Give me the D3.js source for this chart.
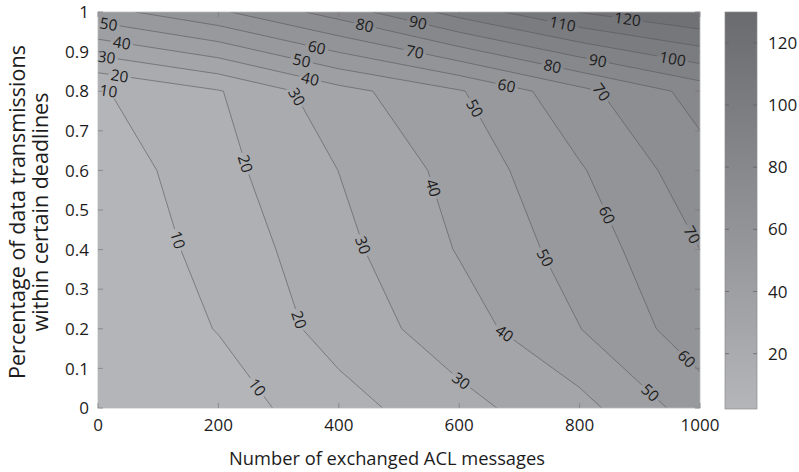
<!DOCTYPE html>
<html><head><meta charset="utf-8">
<script src="https://cdn.jsdelivr.net/npm/d3@7"></script>
<style>
body{margin:0;background:#fff}
svg text{font-family:"Open Sans","Noto Sans",sans-serif;fill:#1c1c1c}
</style>
</head><body>
<svg id="chart" width="799" height="472"></svg>
<script>
// ---- data ----
const xValues = [0, 200, 400, 600, 800, 1000];          // ACL messages (grid columns)
const yValues = [0, 0.2, 0.4, 0.6, 0.8, 1.0];           // percentage (grid rows)
const rowY00 = [2.2, 5.1, 16.0, 27.0, 36.6, 55.1];
const rowY02 = [2.2, 10.4, 24.2, 35.3, 49.8, 65.8];
const rowY04 = [2.3, 13.5, 27.1, 40.7, 54.4, 70.0];
const rowY06 = [3.5, 16.8, 30.1, 43.5, 59.0, 75.9];
const rowY08 = [9.0, 19.3, 36.4, 49.1, 67.0, 84.0];
const rowY10 = [56.2, 68.4, 84.5, 104.0, 120.3, 129.9];
const contourLevels = [10, 20, 30, 40, 50, 60, 70, 80, 90, 100, 110, 120];
const xTicks = [0, 200, 400, 600, 800, 1000];
const yTicks = [0, 0.1, 0.2, 0.3, 0.4, 0.5, 0.6, 0.7, 0.8, 0.9, 1];
const colorbarTicks = [20, 40, 60, 80, 100, 120];
// contour label spots: [level, messages, percentage]
const labelLevels = [50,40,30,20,10, 80,60,50,40,30, 90,70,60,50, 110,80,90,70, 120,100,
                     20,10,30,40,50,60,70, 20,10,40,30,50,60];
const labelXs = [17,39,14,36,17, 443,363,338,352,330, 532,527,679,621, 772,756,831,834, 879,954,
                 247,132,424,549,745,845,981, 324,266,671,598,914,975];
const labelYs = [0.963,0.917,0.883,0.841,0.797, 0.967,0.908,0.875,0.828,0.786, 0.977,0.904,0.816,0.753,
                 0.972,0.871,0.884,0.795, 0.975,0.879,
                 0.618,0.424,0.403,0.552,0.381,0.487,0.433, 0.218,0.054,0.18,0.058,0.033,0.12];

const grid = [rowY00, rowY02, rowY04, rowY06, rowY08, rowY10];

// ---- layout ----
const svg = d3.select("#chart");
const L = 98, R = 700, T = 12, B = 408;
const x = d3.scaleLinear().domain([0, 1000]).range([L, R]);
const y = d3.scaleLinear().domain([0, 1]).range([B, T]);
const nx = xValues.length, ny = yValues.length;
const gxToData = d3.scaleLinear().domain([0.5, nx - 0.5]).range([xValues[0], xValues[nx - 1]]);
const gyToData = d3.scaleLinear().domain([0.5, ny - 0.5]).range([yValues[0], yValues[ny - 1]]);
const flat = grid.flat();
const [vmin, vmax] = d3.extent(flat);
const color = d3.scaleLinear().domain([vmin, vmax]).range(["#b4b5b9", "#6a6b6f"]);

const defs = svg.append("defs");
defs.append("clipPath").attr("id", "plotclip")
  .append("rect").attr("x", L).attr("y", T).attr("width", R - L).attr("height", B - T);

const proj = d3.geoTransform({
  point: function(px, py) { this.stream.point(x(gxToData(px)), y(gyToData(py))); }
});
const path = d3.geoPath(proj);

const contourGen = d3.contours().size([nx, ny]);
const fillGeoms = contourGen.thresholds([vmin, ...contourLevels])(flat);
const lineGeoms = contourGen.thresholds(contourLevels)(flat);

const plot = svg.append("g").attr("clip-path", "url(#plotclip)");
plot.append("rect").attr("x", L).attr("y", T).attr("width", R - L).attr("height", B - T)
  .attr("fill", color(vmin));
plot.selectAll("path.fill").data(fillGeoms).join("path").attr("class", "fill")
  .attr("d", path).attr("fill", d => color(d.value)).attr("stroke", "none");

// ---- contour labels (positions snapped to the contour) ----
const mask = defs.append("mask").attr("id", "gapmask").attr("maskUnits", "userSpaceOnUse")
  .attr("x", 0).attr("y", 0).attr("width", 799).attr("height", 472);
mask.append("rect").attr("x", 0).attr("y", 0).attr("width", 799).attr("height", 472).attr("fill", "white");

const lineLayer = plot.append("g").attr("mask", "url(#gapmask)");
lineLayer.selectAll("path.iso").data(lineGeoms).join("path").attr("class", "iso")
  .attr("d", path).attr("fill", "none").attr("stroke", "#58585a").attr("stroke-width", 0.6);

const labelLayer = svg.append("g");
function ringsPx(geom) {
  const out = [];
  geom.coordinates.forEach(poly => poly.forEach(ring => {
    out.push(ring.map(p => [x(gxToData(p[0])), y(gyToData(p[1]))]));
  }));
  return out;
}
const inside = p => p[0] >= L - 0.5 && p[0] <= R + 0.5 && p[1] >= T - 0.5 && p[1] <= B + 0.5;
labelLevels.forEach((lev, i) => {
  const geom = lineGeoms.find(g => g.value === lev);
  if (!geom) return;
  const sx = x(labelXs[i]), sy = y(labelYs[i]);
  let best = null;
  ringsPx(geom).forEach(r => {
    for (let k = 0; k < r.length - 1; k++) {
      const a = r[k], b = r[k + 1];
      if (!inside(a) && !inside(b)) continue;
      const dx = b[0] - a[0], dy = b[1] - a[1];
      const len2 = dx * dx + dy * dy; if (len2 === 0) continue;
      let t = ((sx - a[0]) * dx + (sy - a[1]) * dy) / len2;
      t = Math.max(0, Math.min(1, t));
      const px = a[0] + t * dx, py = a[1] + t * dy;
      const d2 = (px - sx) ** 2 + (py - sy) ** 2;
      if (!best || d2 < best.d2) best = {d2, px, py, ang: Math.atan2(dy, dx) * 180 / Math.PI};
    }
  });
  if (!best) return;
  let ang = best.ang;
  if (ang > 90) ang -= 180;
  if (ang <= -90) ang += 180;
  const t = labelLayer.append("text")
    .attr("transform", `translate(${best.px},${best.py}) rotate(${ang})`)
    .attr("text-anchor", "middle").attr("dy", "0.36em")
    .attr("font-size", 15.5).text(lev);
  const w = t.node().getComputedTextLength() + 5;
  mask.append("rect").attr("x", -w / 2).attr("y", -7).attr("width", w).attr("height", 14)
    .attr("fill", "black").attr("transform", `translate(${best.px},${best.py}) rotate(${ang})`);
});

// ---- axes box and inner ticks ----
const axes = svg.append("g");
axes.append("rect").attr("x", L).attr("y", T).attr("width", R - L).attr("height", B - T)
  .attr("fill", "none").attr("stroke", "#b9b9bb").attr("stroke-width", 0.8);
const tickCol = "#7a7a7c", tl = 5;
xTicks.forEach(v => {
  axes.append("line").attr("x1", x(v)).attr("x2", x(v)).attr("y1", B).attr("y2", B - tl).attr("stroke", tickCol).attr("stroke-width", 0.7);
  axes.append("line").attr("x1", x(v)).attr("x2", x(v)).attr("y1", T).attr("y2", T + tl).attr("stroke", tickCol).attr("stroke-width", 0.7);
  axes.append("text").attr("x", x(v)).attr("y", B + 23).attr("text-anchor", "middle")
    .attr("font-size", 17).text(d3.format("d")(v));
});
yTicks.forEach(v => {
  axes.append("line").attr("x1", L).attr("x2", L + tl).attr("y1", y(v)).attr("y2", y(v)).attr("stroke", tickCol).attr("stroke-width", 0.7);
  axes.append("line").attr("x1", R).attr("x2", R - tl).attr("y1", y(v)).attr("y2", y(v)).attr("stroke", tickCol).attr("stroke-width", 0.7);
  axes.append("text").attr("x", L - 9).attr("y", y(v)).attr("dy", "0.36em").attr("text-anchor", "end")
    .attr("font-size", 17).text(v === 0 || v === 1 ? String(v) : v.toFixed(1));
});

svg.append("text").attr("x", (L + R) / 2 - 12).attr("y", 465).attr("text-anchor", "middle")
  .attr("font-size", 18.3).text("Number of exchanged ACL messages");
const yt = svg.append("text").attr("transform", `translate(17,${(T + B) / 2 + 2}) rotate(-90)`)
  .attr("text-anchor", "middle").attr("font-size", 21.5);
yt.append("tspan").attr("x", 0).attr("dy", "0.35em").text("Percentage of data transmissions");
yt.append("tspan").attr("x", 0).attr("dy", "1.08em").text("within certain deadlines");

// ---- colorbar ----
const CL = 725, CR = 757;
const cy = d3.scaleLinear().domain([vmin, vmax]).range([B + 1, T]);
const grad = defs.append("linearGradient").attr("id", "cbgrad").attr("x1", 0).attr("y1", 1).attr("x2", 0).attr("y2", 0);
d3.range(0, 1.0001, 0.1).forEach(f => {
  grad.append("stop").attr("offset", f).attr("stop-color", color(vmin + f * (vmax - vmin)));
});
svg.append("rect").attr("x", CL).attr("y", T).attr("width", CR - CL).attr("height", B + 1 - T)
  .attr("fill", "url(#cbgrad)").attr("stroke", "#8e8e90").attr("stroke-width", 0.7);
colorbarTicks.forEach(v => {
  svg.append("line").attr("x1", CL).attr("x2", CL + 4).attr("y1", cy(v)).attr("y2", cy(v)).attr("stroke", "#5e5e60").attr("stroke-width", 0.7);
  svg.append("line").attr("x1", CR).attr("x2", CR - 4).attr("y1", cy(v)).attr("y2", cy(v)).attr("stroke", "#5e5e60").attr("stroke-width", 0.7);
  svg.append("text").attr("x", CR + 11).attr("y", cy(v)).attr("dy", "0.36em").attr("font-size", 17).text(v);
});
</script>
</body></html>
